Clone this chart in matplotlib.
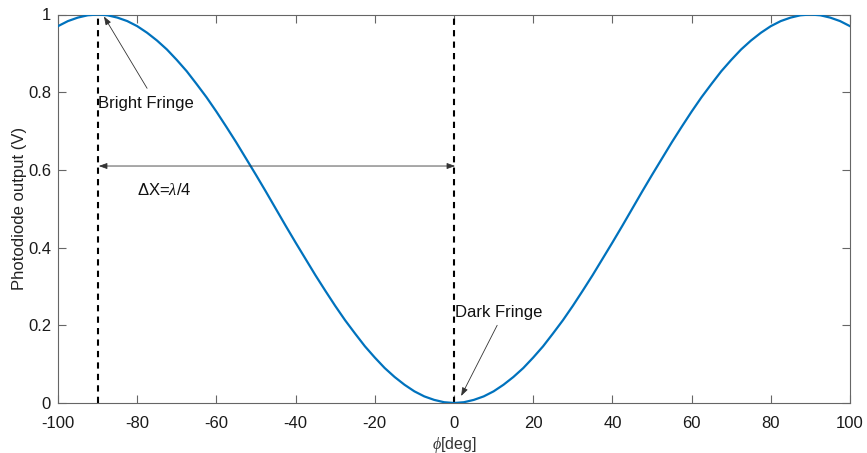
import matplotlib
matplotlib.use("Agg")
import matplotlib.pyplot as plt

plt.rcParams['font.family'] = ['Liberation Sans', 'DejaVu Sans']
plt.rcParams['mathtext.fontset'] = 'custom'
plt.rcParams['mathtext.it'] = 'Liberation Serif:italic'
plt.rcParams['mathtext.rm'] = 'Liberation Sans'

# Values (phase in degrees, photodiode output in volts)
phi_deg = [-100.0, -97.5, -95.0, -92.5, -90.0, -87.5, -85.0, -82.5, -80.0, -77.5,
           -75.0, -72.5, -70.0, -67.5, -65.0, -62.5, -60.0, -57.5, -55.0, -52.5,
           -50.0, -47.5, -45.0, -42.5, -40.0, -37.5, -35.0, -32.5, -30.0, -27.5,
           -25.0, -22.5, -20.0, -17.5, -15.0, -12.5, -10.0, -7.5, -5.0, -2.5,
           0.0, 2.5, 5.0, 7.5, 10.0, 12.5, 15.0, 17.5, 20.0, 22.5,
           25.0, 27.5, 30.0, 32.5, 35.0, 37.5, 40.0, 42.5, 45.0, 47.5,
           50.0, 52.5, 55.0, 57.5, 60.0, 62.5, 65.0, 67.5, 70.0, 72.5,
           75.0, 77.5, 80.0, 82.5, 85.0, 87.5, 90.0, 92.5, 95.0, 97.5, 100.0]
output_v = [0.970, 0.983, 0.992, 0.998, 1.000, 0.998, 0.992, 0.983, 0.970, 0.953,
            0.933, 0.910, 0.883, 0.854, 0.821, 0.787, 0.750, 0.711, 0.671, 0.629,
            0.587, 0.544, 0.500, 0.456, 0.413, 0.371, 0.329, 0.289, 0.250, 0.213,
            0.179, 0.146, 0.117, 0.090, 0.067, 0.047, 0.030, 0.017, 0.008, 0.002,
            0.000, 0.002, 0.008, 0.017, 0.030, 0.047, 0.067, 0.090, 0.117, 0.146,
            0.179, 0.213, 0.250, 0.289, 0.329, 0.371, 0.413, 0.456, 0.500, 0.544,
            0.587, 0.629, 0.671, 0.711, 0.750, 0.787, 0.821, 0.854, 0.883, 0.910,
            0.933, 0.953, 0.970, 0.983, 0.992, 0.998, 1.000, 0.998, 0.992, 0.983, 0.970]
bright_x = -90
dark_x = 0
x_ticks = [-100, -80, -60, -40, -20, 0, 20, 40, 60, 80, 100]
y_ticks = [0, 0.2, 0.4, 0.6, 0.8, 1]
y_tick_labels = ['0', '0.2', '0.4', '0.6', '0.8', '1']

fig = plt.figure(figsize=(8.67, 4.53), dpi=100)
ax = fig.add_axes([58/867, 1-403/453, (850-58)/867, (403-14.5)/453])

ax.plot(phi_deg, output_v, color=(0, 0.447, 0.741), lw=1.6, zorder=3)
ax.axvline(bright_x, color='black', lw=1.5, ls=(0, (3, 2.5)), zorder=2)
ax.axvline(dark_x, color='black', lw=1.5, ls=(0, (3, 2.5)), zorder=2)

ax.set_xlim(-100, 100)
ax.set_ylim(0, 1)
ax.set_xticks(x_ticks)
ax.set_xticklabels([str(t) for t in x_ticks])
ax.set_yticks(y_ticks)
ax.set_yticklabels(y_tick_labels)

spine_c = '#666666'
for s in ax.spines.values():
    s.set_color(spine_c)
    s.set_linewidth(0.8)
ax.tick_params(direction='in', length=6, width=0.8, color=spine_c,
               labelsize=12, labelcolor='#1a1a1a', top=True, right=True,
               labeltop=False, labelright=False)
ax.tick_params(axis='x', pad=9)
ax.tick_params(axis='y', pad=5)

ax.set_xlabel(r'$\it{\phi}$[deg]', fontsize=11.5, color='#333333', labelpad=3)
ax.set_ylabel('Photodiode output (V)', fontsize=12, color='#222222', labelpad=1)

arrow_kw = dict(arrowstyle='-|>,head_length=0.5,head_width=0.18',
                color='#333333', lw=0.6, shrinkA=0, shrinkB=0)

# Bright fringe annotation
ax.annotate('', xy=(-88.4, 0.995), xytext=(-77.5, 0.81), arrowprops=arrow_kw)
ax.text(-89.8, 0.772, 'Bright Fringe', fontsize=12, va='center', ha='left',
        color='#111111')

# Dark fringe annotation
ax.annotate('', xy=(1.8, 0.018), xytext=(10.9, 0.20), arrowprops=arrow_kw)
ax.text(0.3, 0.234, 'Dark Fringe', fontsize=12, va='center', ha='left',
        color='#111111')

# Double arrow for delta X
dbl_kw = dict(arrowstyle='<|-|>,head_length=0.5,head_width=0.18',
              color='#333333', lw=0.6, shrinkA=0, shrinkB=0)
ax.annotate('', xy=(bright_x + 0.3, 0.61), xytext=(dark_x + 0.3, 0.61),
            arrowprops=dbl_kw)
ax.text(-80, 0.548, r'$\Delta$X=$\lambda$/4', fontsize=12, va='center',
        ha='left', color='#111111')

fig.savefig('out.png', dpi=100)
